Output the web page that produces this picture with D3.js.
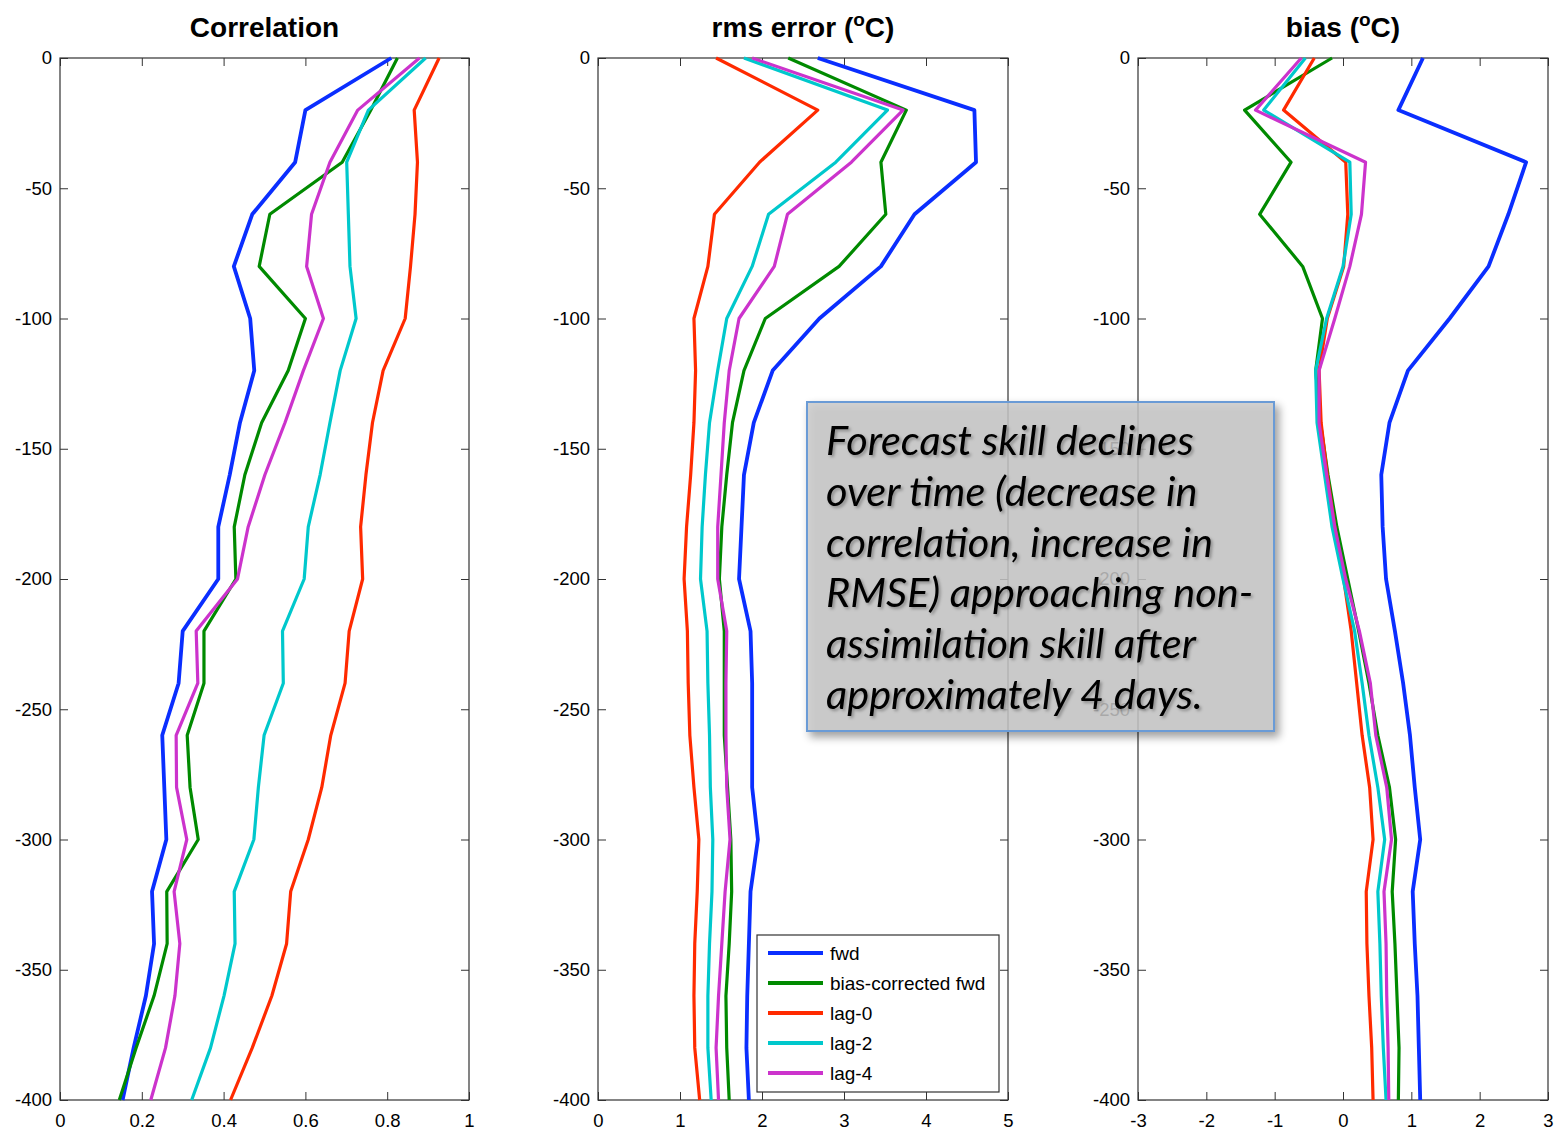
<!DOCTYPE html>
<head>
<meta charset="utf-8">
<style>
body { margin: 0; background: #fff; }
svg text { font-family: "Liberation Sans", Arial, sans-serif; fill: #000; }
.title { font-weight: bold; font-size: 28px; }
.tick text { font-size: 18.5px; }
.note text { font-family: Lato, "Open Sans", sans-serif; font-style: italic; font-size: 41.5px; }
</style>
</head>
<body>
<script src="https://d3js.org/d3.v7.min.js"></script>
<script>
// depth levels (m)
var depth = [0, -20, -40, -60, -80, -100, -120, -140, -160, -180, -200,
             -220, -240, -260, -280, -300, -320, -340, -360, -380, -400];

var seriesNames = ["fwd", "bias-corrected fwd", "lag-0", "lag-2", "lag-4"];
var seriesColors = ["#0a2eff", "#008a00", "#ff2a00", "#00c8cc", "#cc33cc"];
var seriesWidths = [3.8, 3.2, 3.2, 3.2, 3.2];

// correlation
var corrFwd  = [0.81, 0.60, 0.575, 0.47, 0.425, 0.465, 0.475, 0.44, 0.415, 0.387, 0.387, 0.30, 0.29, 0.25, 0.255, 0.26, 0.225, 0.23, 0.21, 0.18, 0.153];
var corrBc   = [0.825, 0.76, 0.69, 0.513, 0.487, 0.60, 0.558, 0.493, 0.452, 0.426, 0.43, 0.352, 0.352, 0.311, 0.318, 0.338, 0.261, 0.262, 0.23, 0.186, 0.145];
var corrLag0 = [0.927, 0.866, 0.874, 0.868, 0.857, 0.844, 0.79, 0.764, 0.748, 0.735, 0.74, 0.707, 0.697, 0.662, 0.64, 0.607, 0.564, 0.554, 0.518, 0.47, 0.417];
var corrLag2 = [0.894, 0.754, 0.701, 0.705, 0.709, 0.724, 0.685, 0.66, 0.636, 0.607, 0.597, 0.544, 0.546, 0.499, 0.485, 0.474, 0.426, 0.428, 0.401, 0.368, 0.322];
var corrLag4 = [0.879, 0.728, 0.66, 0.615, 0.603, 0.644, 0.595, 0.55, 0.501, 0.46, 0.434, 0.333, 0.337, 0.284, 0.285, 0.31, 0.279, 0.293, 0.281, 0.258, 0.222];

// rms error (degC)
var rmsFwd  = [2.68, 4.59, 4.61, 3.86, 3.45, 2.70, 2.13, 1.90, 1.78, 1.75, 1.72, 1.86, 1.88, 1.88, 1.88, 1.95, 1.86, 1.84, 1.82, 1.81, 1.84];
var rmsBc   = [2.32, 3.76, 3.45, 3.51, 2.94, 2.04, 1.78, 1.64, 1.57, 1.51, 1.48, 1.54, 1.54, 1.54, 1.58, 1.62, 1.63, 1.60, 1.56, 1.57, 1.60];
var rmsLag0 = [1.44, 2.68, 1.97, 1.42, 1.34, 1.17, 1.19, 1.17, 1.13, 1.08, 1.05, 1.09, 1.10, 1.12, 1.17, 1.23, 1.21, 1.18, 1.17, 1.18, 1.24];
var rmsLag2 = [1.78, 3.53, 2.90, 2.08, 1.88, 1.57, 1.46, 1.36, 1.31, 1.27, 1.25, 1.33, 1.34, 1.36, 1.37, 1.40, 1.39, 1.36, 1.34, 1.34, 1.38];
var rmsLag4 = [1.88, 3.72, 3.09, 2.31, 2.15, 1.72, 1.60, 1.54, 1.50, 1.46, 1.46, 1.57, 1.56, 1.56, 1.57, 1.61, 1.55, 1.51, 1.47, 1.44, 1.47];

// bias (degC)
var biasFwd  = [1.17, 0.81, 2.68, 2.42, 2.13, 1.56, 0.95, 0.68, 0.56, 0.58, 0.63, 0.76, 0.88, 0.98, 1.05, 1.13, 1.02, 1.05, 1.09, 1.11, 1.13];
var biasBc   = [-0.16, -1.44, -0.76, -1.22, -0.59, -0.30, -0.40, -0.33, -0.22, -0.09, 0.07, 0.23, 0.38, 0.51, 0.68, 0.77, 0.72, 0.76, 0.79, 0.82, 0.81];
var biasLag0 = [-0.42, -0.87, 0.04, 0.07, 0.01, -0.23, -0.35, -0.32, -0.23, -0.12, 0.01, 0.12, 0.20, 0.28, 0.39, 0.44, 0.34, 0.35, 0.38, 0.42, 0.44];
var biasLag2 = [-0.55, -1.16, 0.10, 0.12, 0.00, -0.24, -0.40, -0.38, -0.27, -0.16, 0.00, 0.17, 0.28, 0.38, 0.51, 0.61, 0.51, 0.54, 0.56, 0.59, 0.63];
var biasLag4 = [-0.61, -1.28, 0.33, 0.27, 0.10, -0.12, -0.35, -0.35, -0.24, -0.12, 0.04, 0.24, 0.40, 0.48, 0.64, 0.71, 0.60, 0.63, 0.64, 0.66, 0.67];

var depthTicks = [0, -50, -100, -150, -200, -250, -300, -350, -400];
var corrTicks = [0, 0.2, 0.4, 0.6, 0.8, 1];
var rmsTicks = [0, 1, 2, 3, 4, 5];
var biasTicks = [-3, -2, -1, 0, 1, 2, 3];

var noteLines = [
	"Forecast skill declines",
	"over time (decrease in",
	"correlation, increase in",
	"RMSE) approaching non-",
	"assimilation skill after",
	"approximately 4 days."
];

var W = 1562, H = 1135,
	plotTop = 58, plotBottom = 1100;

var panels = [
	{ left: 60,   right: 469,  domain: [0, 1],  ticks: corrTicks, title: "Correlation", unit: false,
	  data: [corrFwd, corrBc, corrLag0, corrLag2, corrLag4] },
	{ left: 598,  right: 1008, domain: [0, 5],  ticks: rmsTicks,  title: "rms error (", unit: true,
	  data: [rmsFwd, rmsBc, rmsLag0, rmsLag2, rmsLag4] },
	{ left: 1138, right: 1548, domain: [-3, 3], ticks: biasTicks, title: "bias (", unit: true,
	  data: [biasFwd, biasBc, biasLag0, biasLag2, biasLag4] }
];

var svg = d3.select("body").append("svg")
	.attr("width", W)
	.attr("height", H);

var defs = svg.append("defs");
defs.append("filter").attr("id", "boxShadow")
	.attr("x", "-10%").attr("y", "-10%").attr("width", "130%").attr("height", "130%")
	.append("feDropShadow")
	.attr("dx", 4).attr("dy", 5).attr("stdDeviation", 4)
	.attr("flood-color", "#000").attr("flood-opacity", 0.45);
defs.append("filter").attr("id", "textShadow")
	.append("feDropShadow")
	.attr("dx", 2).attr("dy", 2).attr("stdDeviation", 1.5)
	.attr("flood-color", "#000").attr("flood-opacity", 0.3);

var y = d3.scaleLinear().domain([0, -400]).range([plotTop, plotBottom]);

panels.forEach(function(p) {
	var x = d3.scaleLinear().domain(p.domain).range([p.left, p.right]);
	var g = svg.append("g");

	// box with inward ticks on all sides
	g.append("g").attr("class", "tick")
		.attr("transform", "translate(0," + plotBottom + ")")
		.call(d3.axisBottom(x).tickValues(p.ticks).tickSize(-8).tickPadding(14).tickFormat(String))
		.call(function(a) { a.select(".domain").remove(); });
	g.append("g")
		.attr("transform", "translate(0," + plotTop + ")")
		.call(d3.axisTop(x).tickValues(p.ticks).tickSize(-8).tickFormat(""))
		.call(function(a) { a.select(".domain").remove(); });
	g.append("g").attr("class", "tick")
		.attr("transform", "translate(" + p.left + ",0)")
		.call(d3.axisLeft(y).tickValues(depthTicks).tickSize(-8).tickPadding(8).tickFormat(String))
		.call(function(a) { a.select(".domain").remove(); });
	g.append("g")
		.attr("transform", "translate(" + p.right + ",0)")
		.call(d3.axisRight(y).tickValues(depthTicks).tickSize(-8).tickFormat(""))
		.call(function(a) { a.select(".domain").remove(); });
	g.selectAll(".tick line").attr("stroke", "#333");
	g.selectAll("text").attr("font-family", null).attr("font-size", null).attr("fill", "#000");

	g.append("rect")
		.attr("x", p.left).attr("y", plotTop)
		.attr("width", p.right - p.left).attr("height", plotBottom - plotTop)
		.attr("fill", "none").attr("stroke", "#333").attr("stroke-width", 1.2);

	var line = d3.line()
		.x(function(d) { return x(d[1]); })
		.y(function(d) { return y(d[0]); });

	p.data.forEach(function(vals, i) {
		g.append("path")
			.attr("d", line(depth.map(function(d, k) { return [d, vals[k]]; })))
			.attr("fill", "none")
			.attr("stroke", seriesColors[i])
			.attr("stroke-width", seriesWidths[i])
			.attr("stroke-linejoin", "round");
	});

	var t = g.append("text").attr("class", "title")
		.attr("x", (p.left + p.right) / 2).attr("y", 37)
		.attr("text-anchor", "middle")
		.text(p.title);
	if (p.unit) {
		t.append("tspan").attr("font-size", 19).attr("dy", -11).text("o");
		t.append("tspan").attr("dy", 11).text("C)");
	}
});

// legend in rms panel
var lg = svg.append("g").attr("transform", "translate(757,935)");
lg.append("rect").attr("width", 242).attr("height", 157)
	.attr("fill", "#fff").attr("stroke", "#333").attr("stroke-width", 1.2);
seriesNames.forEach(function(name, i) {
	var yy = 18 + i * 30;
	lg.append("line").attr("x1", 11).attr("x2", 66).attr("y1", yy).attr("y2", yy)
		.attr("stroke", seriesColors[i]).attr("stroke-width", 4);
	lg.append("text").attr("x", 73).attr("y", yy + 6.5)
		.attr("font-size", 19).text(name);
});

// annotation box
var note = svg.append("g").attr("class", "note");
note.append("rect")
	.attr("x", 807).attr("y", 402).attr("width", 467).attr("height", 329)
	.attr("fill", "rgb(200,200,200)").attr("fill-opacity", 0.8)
	.attr("stroke", "#6b9bd6").attr("stroke-width", 2)
	.attr("filter", "url(#boxShadow)");
note.selectAll("text.l").data(noteLines).enter().append("text")
	.attr("class", "l")
	.attr("x", 826)
	.attr("y", function(d, i) { return 455 + i * 50.8; })
	.attr("filter", "url(#textShadow)")
	.text(function(d) { return d; });
</script>
</body>
